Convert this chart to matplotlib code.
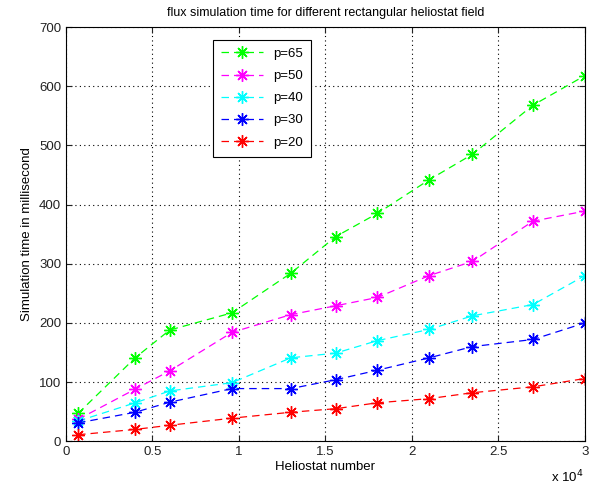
import matplotlib
matplotlib.use("Agg")
from matplotlib import pyplot as plt

plt.rcParams['font.family'] = ['Liberation Sans', 'DejaVu Sans']

# heliostat counts
heliostats = [700, 4000, 6000, 9600, 13000, 15600, 18000, 21000, 23500, 27000, 30000]

# simulation time (ms) for each p
t_p65 = [47, 141, 188, 217, 284, 346, 385, 442, 485, 568, 618]
t_p50 = [37, 88, 119, 184, 214, 229, 243, 280, 304, 372, 389]
t_p40 = [34, 65, 85, 99, 141, 149, 170, 189, 212, 231, 280]
t_p30 = [31, 49, 66, 89, 89, 104, 120, 141, 160, 172, 200]
t_p20 = [11, 20, 27, 39, 49, 55, 65, 72, 82, 92, 106]

series = [("p=65", t_p65, "#00ff00"),
          ("p=50", t_p50, "#ff00ff"),
          ("p=40", t_p40, "#00ffff"),
          ("p=30", t_p30, "#0000ff"),
          ("p=20", t_p20, "#ff0000")]

fig = plt.figure(figsize=(5.89, 4.93), dpi=100)
ax = fig.add_axes([0.112, 0.105, 0.881, 0.84])

# 8-spoke asterisk like the matlab '*' marker
for name, vals, c in series:
    ax.plot(heliostats, vals, linestyle=(0, (6, 4)), color=c, marker=(8, 2, 0),
            markersize=9, markeredgewidth=1.0, linewidth=0.9, label=name)

ax.set_xlim(0, 30000)
ax.set_ylim(0, 700)
ax.set_xticks([0, 5000, 10000, 15000, 20000, 25000, 30000])
ax.set_xticklabels(["0", "0.5", "1", "1.5", "2", "2.5", "3"])
ax.set_yticks(range(0, 701, 100))
ax.tick_params(direction='in', labelsize=9.5, length=4, top=True, right=True, colors='#222222')
ax.grid(True, linestyle=(0, (1, 3)), color='black', linewidth=0.8)

ax.set_title("flux simulation time for different rectangular heliostat field", fontsize=9, pad=8)
ax.set_xlabel("Heliostat number", fontsize=9.5, labelpad=2)
ax.set_ylabel("Simulation time in millisecond", fontsize=9.5, labelpad=4)
fig.text(0.935, 0.022, r"x 10$^4$", fontsize=9.5)

leg = ax.legend(loc='upper left', bbox_to_anchor=(0.27, 0.985), fontsize=9.5,
                handlelength=3.2, fancybox=False, framealpha=1, edgecolor='black',
                borderpad=0.6, labelspacing=0.75)
leg.get_frame().set_linewidth(0.8)

plt.savefig("out.png", dpi=100)
